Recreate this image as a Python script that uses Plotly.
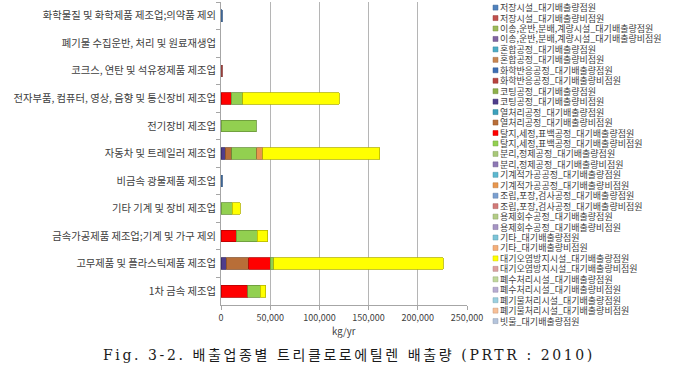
import plotly.graph_objects as go

# ---------------- data ----------------
categories = [
    "화학물질 및 화학제품 제조업;의약품 제외",
    "폐기물 수집운반, 처리 및 원료재생업",
    "코크스, 연탄 및 석유정제품 제조업",
    "전자부품, 컴퓨터, 영상, 음향 및 통신장비 제조업",
    "전기장비 제조업",
    "자동차 및 트레일러 제조업",
    "비금속 광물제품 제조업",
    "기타 기계 및 장비 제조업",
    "금속가공제품 제조업;기계 및 가구 제외",
    "고무제품 및 플라스틱제품 제조업",
    "1차 금속 제조업",
]

series_names = [
    "저장시설_대기배출량점원",
    "저장시설_대기배출량비점원",
    "이송,운반,분배,계량시설_대기배출량점원",
    "이송,운반,분배,계량시설_대기배출량비점원",
    "혼합공정_대기배출량점원",
    "혼합공정_대기배출량비점원",
    "화학반응공정_대기배출량점원",
    "화학반응공정_대기배출량비점원",
    "코팅공정_대기배출량점원",
    "코팅공정_대기배출량비점원",
    "열처리공정_대기배출량점원",
    "열처리공정_대기배출량비점원",
    "탈지,세정,표백공정_대기배출량점원",
    "탈지,세정,표백공정_대기배출량비점원",
    "분리,정제공정_대기배출량점원",
    "분리,정제공정_대기배출량비점원",
    "기계적가공공정_대기배출량점원",
    "기계적가공공정_대기배출량비점원",
    "조립,포장,검사공정_대기배출량점원",
    "조립,포장,검사공정_대기배출량비점원",
    "용제회수공정_대기배출량점원",
    "용제회수공정_대기배출량비점원",
    "기타_대기배출량점원",
    "기타_대기배출량비점원",
    "대기오염방지시설_대기배출량점원",
    "대기오염방지시설_대기배출량비점원",
    "폐수처리시설_대기배출량점원",
    "폐수처리시설_대기배출량비점원",
    "폐기물처리시설_대기배출량점원",
    "폐기물처리시설_대기배출량비점원",
    "빗물_대기배출량점원",
]

series_colors = [
    "#4F81BD", "#C0504D", "#9BBB59", "#8064A2", "#4BACC6", "#C98650",
    "#3C6EB4", "#B8433F", "#8DB04A", "#4E3D8C", "#3BA0BC", "#B86E38",
    "#FF0000", "#92D050", "#A8C878", "#8E78B5", "#5CB8D0", "#E8964E",
    "#7A9FD0", "#D27A78", "#B3CC85", "#A594C4", "#7CC4D8", "#F5AE78",
    "#FFFF00", "#DDA0A0", "#C0D89A", "#B8ACD2", "#9AD0E0", "#F8C098",
    "#B4C4DC",
]

# values (kg/yr), in the order of `categories`
storage_point      = [1500, 0, 0, 0, 0, 0, 1200, 0, 0, 0, 0]
storage_nonpoint   = [0, 0, 1500, 0, 0, 0, 0, 0, 0, 0, 0]
coating_nonpoint   = [0, 0, 0, 0, 0, 4400, 0, 0, 0, 5500, 0]
heat_nonpoint      = [0, 0, 0, 0, 0, 6400, 0, 0, 0, 22500, 0]
degrease_point     = [0, 0, 0, 10200, 0, 0, 0, 0, 15300, 21800, 27300]
degrease_nonpoint  = [0, 0, 0, 12000, 35900, 25500, 0, 11200, 21400, 3800, 12700]
machining_nonpoint = [0, 0, 0, 0, 0, 6100, 0, 0, 0, 0, 0]
apc_point          = [0, 0, 0, 98000, 0, 119100, 0, 8200, 10900, 172200, 5400]
zeros              = [0] * len(categories)

series_values = [
    storage_point, storage_nonpoint, zeros, zeros, zeros, zeros,
    zeros, zeros, zeros, coating_nonpoint, zeros, heat_nonpoint,
    degrease_point, degrease_nonpoint, zeros, zeros, zeros, machining_nonpoint,
    zeros, zeros, zeros, zeros, zeros, zeros,
    apc_point, zeros, zeros, zeros, zeros, zeros,
    zeros,
]

x_ticks = [0, 50000, 100000, 150000, 200000, 250000]
x_title = "kg/yr"
caption = "Fig. 3-2. 배출업종별 트리클로로에틸렌 배출량 (PRTR : 2010)"

# ---------------- figure ----------------
W, H = 699, 373
L, R, T, B = 221, 467, 2, 305
pw, ph = R - L, B - T


def px_x(X):
    return (X - L) / pw


def px_y(Y):
    return (B - Y) / ph


def darker(hexc, f=0.72):
    h = hexc.lstrip("#")
    r, g, b = (int(h[i:i + 2], 16) for i in (0, 2, 4))
    return "rgb(%d,%d,%d)" % (r * f, g * f, b * f)


KFONT = "Noto Sans CJK KR, Noto Sans, sans-serif"
TXT = "#404040"

fig = go.Figure()
for name, color, vals in zip(series_names, series_colors, series_values):
    fig.add_trace(go.Bar(
        y=categories,
        x=[v if v else None for v in vals],
        orientation="h",
        name=name,
        marker=dict(color=color, line=dict(color=darker(color), width=0.8)),
        showlegend=False,
    ))

# manual legend (compact like the original)
shapes = []
annotations = []
leg_y0, leg_step = 7.6, 10.45
for i, (name, color) in enumerate(zip(series_names, series_colors)):
    yc = leg_y0 + i * leg_step
    shapes.append(dict(
        type="rect", xref="paper", yref="paper",
        x0=px_x(493), x1=px_x(498), y0=px_y(yc + 2.5), y1=px_y(yc - 2.5),
        fillcolor=color, line=dict(color=darker(color, 0.8), width=0.5),
    ))
    annotations.append(dict(
        xref="paper", yref="paper", x=px_x(499), y=px_y(yc),
        xanchor="left", yanchor="middle", showarrow=False,
        text=name, font=dict(family=KFONT, size=9, color=TXT),
        borderpad=0,
    ))

annotations.append(dict(
    xref="paper", yref="paper", x=px_x(344), y=px_y(331),
    xanchor="center", yanchor="middle", showarrow=False,
    text=x_title, font=dict(family=KFONT, size=9.5, color=TXT),
))
annotations.append(dict(
    xref="paper", yref="paper", x=px_x(349), y=px_y(355),
    xanchor="center", yanchor="middle", showarrow=False,
    text='<span style="letter-spacing:2.6px">' + caption + "</span>",
    font=dict(family="DejaVu Serif, Noto Sans CJK KR, serif", size=14, color="#1a1a1a"),
))

fig.update_layout(
    width=W, height=H,
    margin=dict(l=L, r=W - R, t=T, b=H - B, pad=0),
    barmode="stack",
    bargap=0.58,
    plot_bgcolor="white",
    paper_bgcolor="white",
    showlegend=False,
    shapes=shapes,
    annotations=annotations,
    xaxis=dict(
        range=[0, 250000], tickvals=x_ticks, tickformat=",d",
        showgrid=True, gridcolor="#B5B5B5", gridwidth=1,
        zeroline=False, showline=True, linecolor="#A6A6A6",
        ticks="outside", ticklen=4, tickcolor="#A6A6A6",
        tickfont=dict(family=KFONT, size=9, color=TXT),
        fixedrange=True,
    ),
    yaxis=dict(
        type="category", categoryorder="array", categoryarray=categories,
        autorange="reversed",
        showgrid=False, zeroline=False, showline=True, linecolor="#A6A6A6",
        ticks="outside", ticklen=4, tickcolor="#A6A6A6", tickson="boundaries",
        tickfont=dict(family=KFONT, size=10.3, color=TXT),
        ticklabelstandoff=2,
        fixedrange=True,
    ),
)

fig.write_html(
    "out.html",
    config={"displayModeBar": False},
    post_script="document.body.style.margin='0';document.body.style.overflow='hidden';",
)
